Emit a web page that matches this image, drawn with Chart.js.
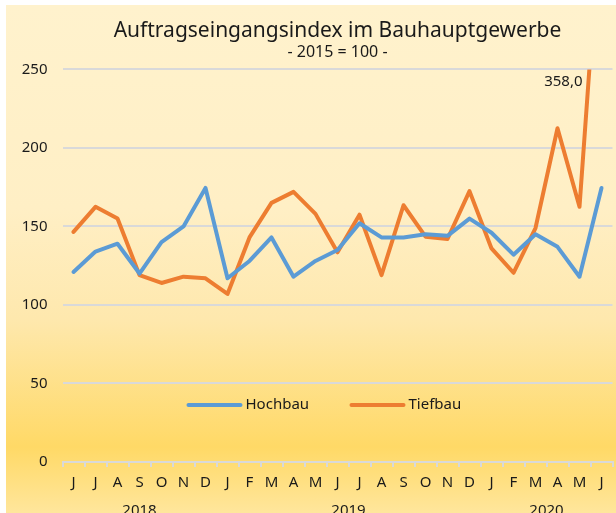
<!DOCTYPE html>
<html>
<head>
<meta charset="utf-8">
<script src="https://cdn.jsdelivr.net/npm/chart.js@4.4.1/dist/chart.umd.min.js"></script>
<style>
  html, body { margin: 0; padding: 0; background: #ffffff; }
  #wrap { position: absolute; left: 0; top: 0; width: 616px; height: 513px; }
</style>
</head>
<body>
<div id="wrap"><canvas id="c" width="616" height="513"></canvas></div>
<script>
// ---- data ----
const months = ['J','J','A','S','O','N','D','J','F','M','A','M','J','J','A','S','O','N','D','J','F','M','A','M','J'];
const monthYears = ['2018','2018','2018','2018','2018','2018','2018',
  '2019','2019','2019','2019','2019','2019','2019','2019','2019','2019','2019','2019',
  '2020','2020','2020','2020','2020','2020'];
const hochbau = [121, 134, 139, 120, 140, 150, 174.5, 117, 128, 143, 118, 128, 135, 152, 143, 143, 145, 144, 155, 146, 132, 145, 137, 118, 174.5];
const tiefbau = [146.5, 162.5, 155, 119, 114, 118, 117, 107, 143, 165, 172, 158, 133.5, 157.5, 119, 163.5, 143.5, 142, 172.5, 136, 120.5, 149, 212.5, 162.5, 358];
const yTicks = [0, 50, 100, 150, 200, 250];
const titleText = 'Auftragseingangsindex im Bauhauptgewerbe';
const subtitleText = '- 2015 = 100 -';

const FONT = "'Noto Sans', 'Open Sans', sans-serif";
const GRID = '#d9d9d9';

const bgPlugin = {
  id: 'bg',
  beforeDraw(chart) {
    const ctx = chart.ctx, W = chart.width, H = chart.height;
    ctx.save();
    ctx.fillStyle = '#ffffff';
    ctx.fillRect(0, 0, W, H);
    const g = ctx.createLinearGradient(0, 5, 0, H);
    g.addColorStop(0.00, '#fff2cd');
    g.addColorStop(0.40, '#ffefc5');
    g.addColorStop(0.62, '#fee8ad');
    g.addColorStop(0.87, '#ffd966');
    g.addColorStop(1.00, '#ffe69c');
    ctx.fillStyle = g;
    ctx.fillRect(6, 5, W - 6, H - 5);
    ctx.restore();
  }
};

const extrasPlugin = {
  id: 'extras',
  afterDraw(chart) {
    const ctx = chart.ctx;
    const xs = chart.scales.x, ys = chart.scales.y, ca = chart.chartArea;
    ctx.save();
    // year labels
    ctx.font = '15px ' + FONT;
    ctx.fillStyle = '#1a1a1a';
    ctx.textAlign = 'center';
    ctx.textBaseline = 'alphabetic';
    const groups = [];
    monthYears.forEach((y, i) => {
      const last = groups[groups.length - 1];
      if (last && last.year === y) last.end = i; else groups.push({year: y, start: i, end: i});
    });
    groups.forEach(gp => {
      const cx = (xs.getPixelForValue(gp.start) + xs.getPixelForValue(gp.end)) / 2;
      ctx.fillText(gp.year, cx, 515);
    });
    // value label for clipped point
    const lastIdx = tiefbau.length - 1;
    const v = tiefbau[lastIdx];
    if (v > ys.max) {
      ctx.textAlign = 'right';
      ctx.textBaseline = 'middle';
      ctx.fillText(v.toLocaleString('de-DE', {minimumFractionDigits: 1, maximumFractionDigits: 1}),
        xs.getPixelForValue(lastIdx) - 19, ca.top + 12);
    }
    // legend
    ctx.textAlign = 'left';
    ctx.textBaseline = 'middle';
    const ly = 405;
    let lx = 188.5;
    chart.data.datasets.forEach((ds, i) => {
      ctx.strokeStyle = ds.borderColor;
      ctx.lineWidth = 4;
      ctx.lineCap = 'round';
      ctx.beginPath();
      ctx.moveTo(lx, ly);
      ctx.lineTo(lx + 52, ly);
      ctx.stroke();
      ctx.fillStyle = '#1a1a1a';
      ctx.fillText(ds.label, lx + 57, ly);
      lx += 163;
    });
    ctx.restore();
  }
};

new Chart(document.getElementById('c'), {
  type: 'line',
  data: {
    labels: months,
    datasets: [
      { label: 'Hochbau', data: hochbau, borderColor: '#5b9bd5', backgroundColor: '#5b9bd5',
        borderWidth: 4, pointRadius: 0, tension: 0, borderJoinStyle: 'round', borderCapStyle: 'round',
        clip: {left: 5, top: 0, right: 5, bottom: 5} },
      { label: 'Tiefbau', data: tiefbau, borderColor: '#ed7d31', backgroundColor: '#ed7d31',
        borderWidth: 4, pointRadius: 0, tension: 0, borderJoinStyle: 'round', borderCapStyle: 'round',
        clip: {left: 5, top: 0, right: 5, bottom: 5} }
    ]
  },
  options: {
    responsive: false,
    animation: false,
    devicePixelRatio: 1,
    layout: { padding: { left: 22, right: 3.5, top: 0, bottom: 0 } },
    plugins: {
      legend: { display: false },
      tooltip: { enabled: false },
      title: { display: true, text: titleText, fullSize: false, color: '#1a1a1a',
        font: { family: FONT, size: 21, weight: 'normal' }, padding: { top: 18, bottom: 0 } },
      subtitle: { display: true, text: subtitleText, fullSize: false, color: '#1a1a1a',
        font: { family: FONT, size: 16, weight: 'normal' }, padding: { top: 0, bottom: 7 } }
    },
    scales: {
      x: {
        type: 'category',
        offset: true,
        grid: { display: true, offset: true, drawOnChartArea: false, drawTicks: true, tickLength: 5, color: GRID, lineWidth: 2 },
        border: { display: true, color: GRID, width: 2 },
        ticks: { color: '#1a1a1a', font: { family: FONT, size: 15 }, padding: 7, maxRotation: 0, autoSkip: false },
        afterFit(scale) { scale.height = 51; }
      },
      y: {
        min: 0, max: 250,
        afterBuildTicks(scale) { scale.ticks = yTicks.map(v => ({ value: v })); },
        grid: { color: GRID, lineWidth: 2, drawTicks: false },
        border: { display: false },
        ticks: { color: '#1a1a1a', font: { family: FONT, size: 15 }, padding: 15 },
        afterFit(scale) { scale.width = 40.5; }
      }
    }
  },
  plugins: [bgPlugin, extrasPlugin]
});
</script>
</body>
</html>
